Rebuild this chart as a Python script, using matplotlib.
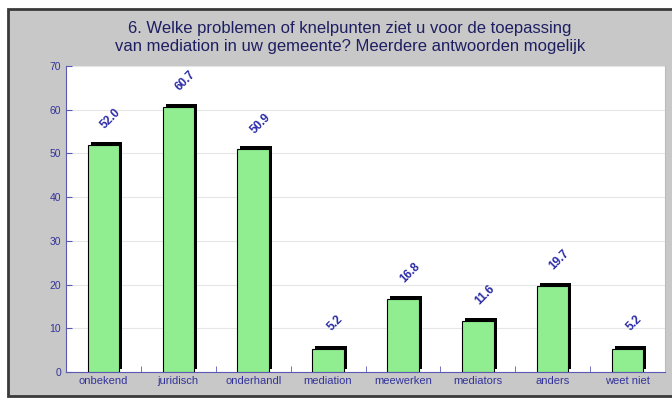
import matplotlib
matplotlib.use('Agg')
import matplotlib.pyplot as plt
import matplotlib.transforms as mtransforms
from matplotlib.patches import Rectangle

plt.rcParams['font.family'] = ['Liberation Sans', 'DejaVu Sans']

categories = ['onbekend', 'juridisch', 'onderhandl', 'mediation', 'meewerken', 'mediators', 'anders', 'weet niet']
values = [52.0, 60.7, 50.9, 5.2, 16.8, 11.6, 19.7, 5.2]
title = '6. Welke problemen of knelpunten ziet u voor de toepassing\nvan mediation in uw gemeente? Meerdere antwoorden mogelijk'

title_col = '#1e1e62'
tick_col = '#33339a'
label_col = '#2a2aa8'
axis_blue = '#5a5ab4'

fig = plt.figure(figsize=(6.72, 4.0), dpi=100)
fig.patch.set_facecolor('white')
# grey panel with dark frame
fig.patches.append(Rectangle((8 / 672, 4 / 400), 1.0, 387 / 400, transform=fig.transFigure,
                             facecolor='#c8c8c8', edgecolor='#3a3a3a', linewidth=2, zorder=-1))

ax = fig.add_axes([66 / 672, 28 / 400, 599 / 672, 306 / 400])
ax.set_zorder(2)
ax.set_facecolor('white')

x = list(range(len(categories)))
w = 0.42
shadow = mtransforms.offset_copy(ax.transData, fig=fig, x=3, y=3, units='dots')
ax.bar(x, values, width=w, color='black', transform=shadow, zorder=2)
ax.bar(x, values, width=w, color='#90ee90', edgecolor='black', linewidth=0.8, zorder=3)

for xi, v in zip(x, values):
    ax.annotate(f'{v:.1f}', (xi, v), xytext=(7, 26), textcoords='offset pixels',
                rotation=45, ha='center', va='center', fontsize=8.5, fontweight='bold',
                color=label_col, rotation_mode='anchor')

ax.set_xlim(-0.5, len(categories) - 0.5)
ax.set_ylim(0, 70)
ax.set_yticks(range(0, 71, 10))
ax.yaxis.grid(True, color='#e6e6e6', linewidth=0.8, zorder=0)
ax.set_axisbelow(True)

ax.set_xticks(x)
ax.set_xticklabels(categories)
ax.set_xticks([i + 0.5 for i in x[:-1]], minor=True)
ax.tick_params(axis='x', which='major', length=0, labelsize=8, labelcolor=tick_col, pad=3)
ax.tick_params(axis='x', which='minor', direction='in', length=4, color=axis_blue)
ax.tick_params(axis='y', direction='in', length=4, color=axis_blue, labelsize=7.5, labelcolor=tick_col)

ax.spines['left'].set_color(axis_blue)
ax.spines['bottom'].set_color(axis_blue)
ax.spines['top'].set_visible(False)
ax.spines['right'].set_color('#bbbbbb')

fig.text(350 / 672, 1 - 38 / 400, title, ha='center', va='center', fontsize=12,
         color=title_col, linespacing=1.25)

fig.savefig('out.png', dpi=100)
